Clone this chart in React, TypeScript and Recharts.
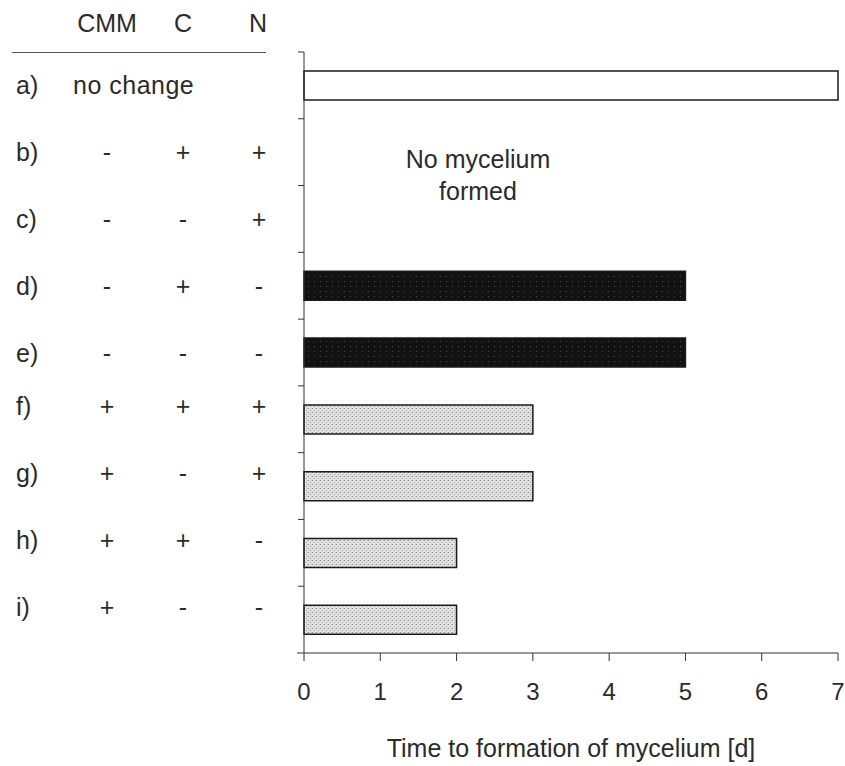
import React from 'react'
import { BarChart, Bar, XAxis, YAxis, Cell } from 'recharts'

// treatment table (rows a-i) and the resulting time to mycelium formation
const rowLabels = ['a)', 'b)', 'c)', 'd)', 'e)', 'f)', 'g)', 'h)', 'i)']
const conditionNotes = ['no change', '', '', '', '', '', '', '', '']
const cmmSigns = ['', '-', '-', '-', '-', '+', '+', '+', '+']
const carbonSigns = ['', '+', '-', '+', '-', '+', '-', '+', '-']
const nitrogenSigns = ['', '+', '+', '-', '-', '+', '+', '-', '-']
const daysToMycelium: (number | null)[] = [7, null, null, 5, 5, 3, 3, 2, 2]

const tableHeaders = ['CMM', 'C', 'N']
const dayTicks = [0, 1, 2, 3, 4, 5, 6, 7]
const noMyceliumNote = ['No mycelium', 'formed']
const xAxisTitle = 'Time to formation of mycelium [d]'

const chartData = rowLabels.map((row, i) => ({
  row,
  note: conditionNotes[i],
  cmm: cmmSigns[i],
  carbon: carbonSigns[i],
  nitrogen: nitrogenSigns[i],
  days: daysToMycelium[i],
}))

const FONT = '"Liberation Sans", Arial, Helvetica, sans-serif'
const INK = '#2b2b2b'
const AXIS = '#333333'
const SIZE = 25
const COLUMN_X = [107, 183, 259]

const W = 845
const H = 766
const MARGIN = { top: 52, right: 7, left: 0, bottom: 0 }
const X_AXIS_H = 113
const Y_AXIS_W = 304
const BAND = (H - MARGIN.top - MARGIN.bottom - X_AXIS_H) / rowLabels.length

function fillFor(entry: (typeof chartData)[number]) {
  if (entry.note) return '#ffffff'
  if (entry.cmm === '-') return 'url(#darkGrain)'
  return 'url(#stipple)'
}

function TableRowTick(props: any) {
  const { y, payload } = props
  const i = rowLabels.indexOf(payload.value)
  const entry = chartData[i]
  if (!entry) return null
  // the printed table drifts a little upward in its lower rows
  const cy = i >= 5 ? y - 13 : y
  const common = {
    fontFamily: FONT,
    fontSize: SIZE,
    fill: INK,
    dominantBaseline: 'central' as const,
  }
  const axisX = Y_AXIS_W
  return (
    <g>
      {/* tick marks sit on the row boundaries, not the row centres */}
      <line x1={axisX - 6} x2={axisX} y1={y - BAND / 2} y2={y - BAND / 2} stroke={AXIS} />
      {i === rowLabels.length - 1 && (
        <line x1={axisX - 7} x2={axisX} y1={y + BAND / 2} y2={y + BAND / 2} stroke={AXIS} />
      )}
      <text x={16} y={cy} {...common}>
        {entry.row}
      </text>
      {entry.note ? (
        <text x={73} y={cy} {...common} letterSpacing={0.5}>
          {entry.note}
        </text>
      ) : (
        [entry.cmm, entry.carbon, entry.nitrogen].map((s, k) => (
          <text key={k} x={COLUMN_X[k]} y={cy} textAnchor="middle" {...common}>
            {s}
          </text>
        ))
      )}
    </g>
  )
}

export default function App() {
  return (
    <div
      style={{
        position: 'absolute',
        left: 0,
        top: 0,
        width: W,
        height: H,
        background: '#ffffff',
        fontFamily: FONT,
      }}
    >
      <svg width={0} height={0} style={{ position: 'absolute' }}>
        <defs>
          <pattern id="stipple" width="4" height="4" patternUnits="userSpaceOnUse">
            <rect width="4" height="4" fill="#e2e2e2" />
            <rect x="0" y="0" width="1" height="1" fill="#8a8a8a" />
            <rect x="2" y="2" width="1" height="1" fill="#a5a5a5" />
            <rect x="3" y="0" width="1" height="1" fill="#c4c4c4" />
          </pattern>
          <pattern id="darkGrain" width="6" height="5" patternUnits="userSpaceOnUse">
            <rect width="6" height="5" fill="#121212" />
            <rect x="2" y="1" width="1" height="1" fill="#4a4a4a" />
          </pattern>
        </defs>
      </svg>

      <BarChart
        width={W}
        height={H}
        data={chartData}
        layout="vertical"
        margin={MARGIN}
        barCategoryGap={0}
      >
        <XAxis
          type="number"
          domain={[0, 7]}
          ticks={dayTicks}
          interval={0}
          height={X_AXIS_H}
          tickSize={8}
          tickMargin={22}
          stroke={AXIS}
          tick={{ fill: INK, fontSize: 24, fontFamily: FONT }}
          label={{
            value: xAxisTitle,
            position: 'insideBottom',
            offset: 9,
            fill: INK,
            fontSize: SIZE,
            fontFamily: FONT,
          }}
        />
        <YAxis
          type="category"
          dataKey="row"
          width={Y_AXIS_W}
          interval={0}
          stroke={AXIS}
          tickLine={false}
          tick={<TableRowTick />}
        />
        <Bar
          dataKey="days"
          barSize={29}
          stroke="#1a1a1a"
          strokeWidth={1.5}
          isAnimationActive={false}
        >
          {chartData.map((d) => (
            <Cell key={d.row} fill={fillFor(d)} />
          ))}
        </Bar>
      </BarChart>

      <svg
        width={W}
        height={H}
        style={{ position: 'absolute', left: 0, top: 0, pointerEvents: 'none' }}
      >
        {tableHeaders.map((h, k) => (
          <text
            key={h}
            x={COLUMN_X[k] - (k === 2 ? 1 : 0)}
            y={32}
            textAnchor="middle"
            fontFamily={FONT}
            fontSize={SIZE}
            fill={INK}
          >
            {h}
          </text>
        ))}
        <line x1={12} x2={266} y1={52.5} y2={52.5} stroke="#555555" strokeWidth={1} />
        {noMyceliumNote.map((t, k) => (
          <text
            key={t}
            x={478}
            y={168 + k * 32}
            textAnchor="middle"
            fontFamily={FONT}
            fontSize={SIZE}
            fill={INK}
          >
            {t}
          </text>
        ))}
      </svg>
    </div>
  )
}
